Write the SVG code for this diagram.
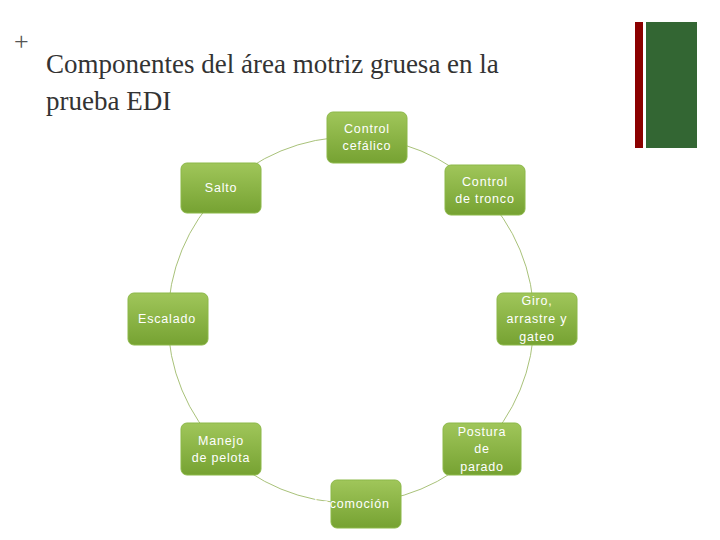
<svg xmlns="http://www.w3.org/2000/svg" width="720" height="540" viewBox="0 0 720 540">
<defs>
<linearGradient id="g" x1="0" y1="0" x2="0" y2="1"><stop offset="0" stop-color="#a0c65a"/><stop offset="1" stop-color="#76a232"/></linearGradient>
<style>
.n rect{fill:url(#g);stroke:#8cb848;stroke-width:1}
.n text{font-family:"Liberation Sans",Arial,sans-serif;font-size:12.5px;fill:#fff;text-anchor:middle;letter-spacing:0.8px}
.t{font-family:"Liberation Serif","Times New Roman",serif;font-size:27px;fill:#333}
</style>
</defs>
<rect width="720" height="540" fill="#fff"/>
<text x="14" y="50" font-family="Liberation Serif,serif" font-size="26" fill="#555">+</text>
<text class="t" x="46" y="73">Componentes del área motriz gruesa en la</text>
<text class="t" x="46" y="110">prueba EDI</text>
<rect x="635" y="22" width="8" height="126" fill="#8b0000"/>
<rect x="646" y="22" width="51" height="126" fill="#336633"/>
<g id="connectors"><circle cx="351" cy="320" r="183" fill="none" stroke="#a9c27a" stroke-width="1"/></g>
<g id="n1" class="n"><rect x="327" y="112" width="80" height="51" rx="6"/><text x="367" y="133">Control</text><text x="367" y="150">cefálico</text></g>
<g id="n2" class="n"><rect x="445" y="165" width="80" height="50" rx="6"/><text x="485" y="186">Control</text><text x="485" y="203">de tronco</text></g>
<g id="n3" class="n"><rect x="497" y="293" width="80" height="52" rx="6"/><text x="537" y="305">Giro,</text><text x="537" y="323">arrastre y</text><text x="537" y="341">gateo</text></g>
<g id="n4" class="n"><rect x="443" y="423" width="78" height="52" rx="6"/><text x="482" y="436">Postura</text><text x="482" y="453">de</text><text x="482" y="471">parado</text></g>
<g id="n5" class="n"><rect x="331" y="480" width="70" height="48" rx="6"/><text x="352" y="508">Locomoción</text></g>
<g id="n6" class="n"><rect x="181" y="423" width="80" height="52" rx="6"/><text x="221" y="445">Manejo</text><text x="221" y="462">de pelota</text></g>
<g id="n7" class="n"><rect x="128" y="293" width="80" height="52" rx="6"/><text x="167" y="323">Escalado</text></g>
<g id="n8" class="n"><rect x="181" y="163" width="80" height="50" rx="6"/><text x="221" y="192">Salto</text></g>
</svg>
